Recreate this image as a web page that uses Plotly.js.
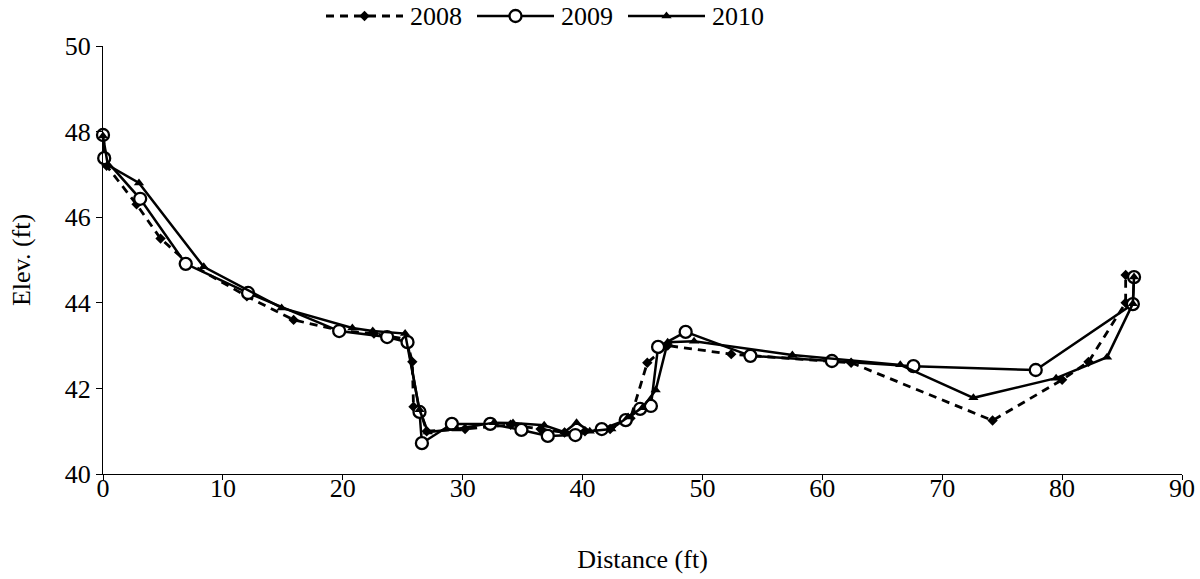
<!DOCTYPE html>
<html>
<head>
<meta charset="utf-8">
<script src="https://cdn.plot.ly/plotly-3.0.1.min.js"></script>
<style>html,body{margin:0;padding:0;background:#fff;}#chart{width:1200px;height:579px;}</style>
</head>
<body>
<div id="chart"></div>
<script>
// Series names
const seriesNames = ['2008', '2009', '2010'];
// 2008 survey
const x2008 = [0, 0.3, 2.8, 4.8, 7.0, 12.0, 15.9, 19.8, 22.6, 25.3, 25.8, 25.9, 26.5, 27.0, 30.2, 34.0, 36.5, 38.5, 40.2, 42.3, 44.0, 45.4, 47.1, 52.4, 62.4, 74.2, 80.0, 82.2, 85.3, 85.3];
const y2008 = [47.9, 47.2, 46.3, 45.5, 44.95, 44.15, 43.6, 43.35, 43.28, 43.15, 42.62, 41.57, 41.45, 41.0, 41.05, 41.15, 41.05, 40.97, 41.0, 41.05, 41.3, 42.6, 43.0, 42.8, 42.6, 41.25, 42.2, 42.62, 44.0, 44.65];
// 2009 survey
const x2009 = [0, 0.1, 3.1, 6.9, 12.1, 19.7, 23.7, 25.4, 26.4, 26.6, 29.1, 32.3, 34.9, 37.1, 39.4, 41.6, 43.6, 44.8, 45.7, 46.3, 48.6, 54.0, 60.8, 67.6, 77.8, 85.9, 86.0];
const y2009 = [47.92, 47.38, 46.43, 44.91, 44.23, 43.34, 43.2, 43.08, 41.45, 40.72, 41.17, 41.17, 41.03, 40.89, 40.91, 41.05, 41.26, 41.52, 41.59, 42.97, 43.32, 42.76, 42.64, 42.52, 42.43, 43.97, 44.6];
// 2010 survey
const x2010 = [0, 0.4, 3.0, 8.4, 14.9, 20.8, 22.5, 25.2, 26.4, 27.1, 29.5, 32.6, 34.2, 36.8, 38.5, 39.5, 40.6, 42.4, 43.8, 45.0, 46.1, 47.1, 49.3, 57.5, 66.5, 72.6, 79.5, 83.75, 85.9, 86.0];
const y2010 = [47.9, 47.22, 46.8, 44.84, 43.88, 43.41, 43.34, 43.28, 41.5, 40.98, 41.05, 41.2, 41.19, 41.14, 40.98, 41.2, 41.0, 41.05, 41.33, 41.55, 41.96, 43.08, 43.1, 42.78, 42.55, 41.78, 42.24, 42.73, 43.98, 44.6];
// Tick values
const xTicks = [0, 10, 20, 30, 40, 50, 60, 70, 80, 90];
const yTicks = [40, 42, 44, 46, 48, 50];

const FONT = 'Liberation Serif, Times New Roman, serif';
const FS = 26;

const styles = [
  {line: {color: '#000', width: 2.8, dash: '8px,6px'}, marker: {symbol: 'diamond', size: 8, color: '#000'}},
  {line: {color: '#000', width: 2.5}, marker: {symbol: 'circle', size: 12, color: '#fff', line: {color: '#000', width: 2.3}}},
  {line: {color: '#000', width: 2.5}, marker: {symbol: 'triangle-up', size: 9, color: '#000'}}
];
const xs = [x2008, x2009, x2010];
const ys = [y2008, y2009, y2010];

const traces = [];
for (let i = 0; i < 3; i++) {
  traces.push({x: xs[i], y: ys[i], name: seriesNames[i], mode: 'lines+markers', cliponaxis: false,
    showlegend: false, line: styles[i].line, marker: styles[i].marker, xaxis: 'x', yaxis: 'y'});
}

// Custom legend (drawn on a helper axis placed in the top band, in pixel units)
const legStart = [326, 477, 628];  // left end of each legend sample line (px)
const legLen = 77;                 // sample line length (px)
const legGap = 5;                  // gap between sample and label (px)
const annotations = [];
for (let i = 0; i < 3; i++) {
  const a = legStart[i], b = legStart[i] + legLen;
  traces.push({x: [a, b], y: [0.5, 0.5], mode: 'lines', showlegend: false, hoverinfo: 'skip',
    line: styles[i].line, xaxis: 'x2', yaxis: 'y2', cliponaxis: false});
  traces.push({x: [(a + b) / 2], y: [0.5], mode: 'markers', showlegend: false, hoverinfo: 'skip',
    marker: styles[i].marker, xaxis: 'x2', yaxis: 'y2', cliponaxis: false});
  annotations.push({x: b + legGap, y: 0.5, xref: 'x2', yref: 'y2', text: seriesNames[i], showarrow: false,
    xanchor: 'left', yanchor: 'middle', font: {family: FONT, size: FS, color: '#000'}});
}

const plotTop = 46, plotBottom = 474, H = 579, mB = H - plotBottom;
const areaH = plotBottom; // margin top 0
const layout = {
  width: 1200, height: H,
  margin: {l: 103, r: 18, t: 0, b: mB, autoexpand: false},
  paper_bgcolor: '#fff', plot_bgcolor: 'rgba(0,0,0,0)',
  font: {family: FONT, size: FS, color: '#000'},
  showlegend: false,
  annotations: annotations,
  xaxis: {range: [0, 90], tickvals: xTicks, showgrid: false, zeroline: false, automargin: false,
          showline: true, linecolor: '#000', linewidth: 1, ticks: 'outside', ticklen: 5, tickcolor: '#000',
          ticklabelstandoff: -14,
          tickfont: {family: FONT, size: FS},
          title: {text: 'Distance (ft)', font: {family: FONT, size: FS}, standoff: 47}},
  yaxis: {range: [40, 50], tickvals: yTicks, showgrid: false, zeroline: false, automargin: false,
          domain: [0, (plotBottom - plotTop) / areaH],
          showline: true, linecolor: '#000', linewidth: 1, ticks: 'outside', ticklen: 6, tickcolor: '#000',
          tickfont: {family: FONT, size: FS},
          title: {text: 'Elev. (ft)', font: {family: FONT, size: FS}, standoff: 26}},
  xaxis2: {range: [103, 1182], domain: [0, 1], anchor: 'y2', visible: false, fixedrange: true},
  yaxis2: {range: [0, 1], domain: [1 - 32 / areaH, 1], anchor: 'x2', visible: false, fixedrange: true}
};

Plotly.newPlot('chart', traces, layout, {staticPlot: true, displayModeBar: false});
</script>
</body>
</html>
